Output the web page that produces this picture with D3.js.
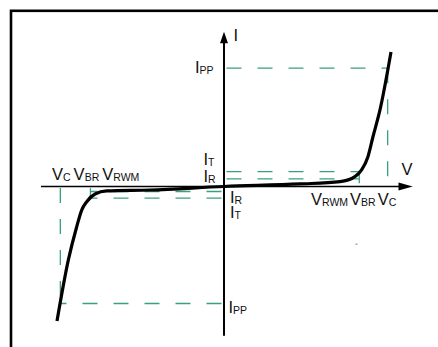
<!DOCTYPE html>
<html>
<head>
<meta charset="utf-8">
<script src="https://cdn.jsdelivr.net/npm/d3@7"></script>
<style>
body { margin: 0; background: #fff; }
text { font-family: "Liberation Sans", Arial, sans-serif; fill: #111; }
</style>
</head>
<body>
<svg id="chart" width="438" height="347"></svg>
<script>
// levels on the V-I plane (arbitrary units)
let vc = 9.8, vbr = 8.1;
let vcNeg = -9.8, vbrNeg = -8.0;
let ipp = 8.8, it = 1.1, ir = 0.56;
let ippNeg = -8.7, itNeg = -0.86, irNeg = -0.37;

// V-I curve of the diode
let curveV = [-10, -9.32, -8.82, -8.52, -8.22, -7.72, -7.02, -4.43, 0, 4.55, 6.95, 7.84, 8.24, 8.62, 8.92, 9.34, 10];
let curveI = [-10, -5.46, -2.99, -1.75, -1.13, -0.56, -0.33, -0.26, 0, 0.19, 0.36, 0.73, 1.23, 2.22, 3.70, 5.69, 10];

// dashed guides: [v1, i1, v2, i2]
let guides = [
    [0.15, ipp, vc, ipp],
    [vc, ipp, vc, 0.25],
    [0.15, it, vbr, it],
    [0.15, ir, vbr, ir],
    [vbr, it, vbr, 0.25],
    [-0.15, ippNeg, vcNeg, ippNeg],
    [vcNeg, -0.12, vcNeg, ippNeg],
    [-0.15, irNeg, vbrNeg, irNeg],
    [-0.15, itNeg, vbrNeg, itNeg],
    [vbrNeg, -0.12, vbrNeg, itNeg]
];

// labels: [main, subscript] pairs
let leftVLabel = [["V", "C"], ["V", "BR"], ["V", "RWM"]];
let rightVLabel = [["V", "RWM"], ["V", "BR"], ["V", "C"]];

let svg = d3.select("#chart");

let x = d3.scaleLinear().domain([-10, 10]).range([57, 391]);
let y = d3.scaleLinear().domain([-10, 10]).range([321, 52]);

// frame
svg.append("rect")
    .attr("x", 11).attr("y", 10.8)
    .attr("width", 600).attr("height", 600)
    .attr("fill", "none").attr("stroke", "#000").attr("stroke-width", 2.6);

// guides
svg.selectAll(".guide")
    .data(guides)
    .enter().append("line")
    .attr("class", "guide")
    .attr("x1", d => x(d[0])).attr("y1", d => y(d[1]))
    .attr("x2", d => x(d[2])).attr("y2", d => y(d[3]))
    .attr("stroke", "#3a9f84").attr("stroke-width", 1.3)
    .attr("stroke-dasharray", "15,16");

// axes
let x0 = x(0), y0 = y(0);
svg.append("line")
    .attr("x1", x(-10.96)).attr("x2", x(10.6))
    .attr("y1", y0).attr("y2", y0)
    .attr("stroke", "#000").attr("stroke-width", 1.5);
svg.append("path")
    .attr("d", `M${x(11.3)},${y0} L${x(10.45)},${y0 - 4} L${x(10.45)},${y0 + 4} Z`)
    .attr("fill", "#000");
svg.append("line")
    .attr("x1", x0).attr("x2", x0)
    .attr("y1", y(10.8)).attr("y2", y(-11.1))
    .attr("stroke", "#000").attr("stroke-width", 2);
svg.append("path")
    .attr("d", `M${x0},${y(11.5)} L${x0 - 4},${y(10.65)} L${x0 + 4},${y(10.65)} Z`)
    .attr("fill", "#000");

// curve
let line = d3.line()
    .x(d => x(d[0]))
    .y(d => y(d[1]))
    .curve(d3.curveMonotoneX);

svg.append("path")
    .datum(curveV.map((v, i) => [v, curveI[i]]))
    .attr("d", line)
    .attr("fill", "none").attr("stroke", "#000").attr("stroke-width", 3.2)
    .attr("stroke-linecap", "butt");

// stray dot
svg.append("rect")
    .attr("x", 355.5).attr("y", 243.5).attr("width", 2).attr("height", 1.5)
    .attr("fill", "#aaa");

function label(px, py, parts, gap) {
    let t = svg.append("text").attr("x", px).attr("y", py).style("font-size", "16.5px");
    parts.forEach((p, i) => {
        t.append("tspan").attr("dx", i > 0 ? gap : 0).attr("dy", i > 0 ? -1 : 0).text(p[0]);
        if (p[1]) t.append("tspan").attr("dy", 1).style("font-size", "10.5px").text(p[1]);
    });
    return t;
}

label(233.5, 41, [["I", ""]], 0);
label(401.5, 175, [["V", ""]], 0);
label(195, 72.7, [["I", "PP"]], 0);
label(228.5, 313.3, [["I", "PP"]], 0);
label(203.5, 165, [["I", "T"]], 0);
label(203.5, 182.3, [["I", "R"]], 0);
label(230, 203.3, [["I", "R"]], 0);
label(230, 218.3, [["I", "T"]], 0);
label(52, 180, leftVLabel, 3);
label(311, 205, rightVLabel, 2);
</script>
</body>
</html>
